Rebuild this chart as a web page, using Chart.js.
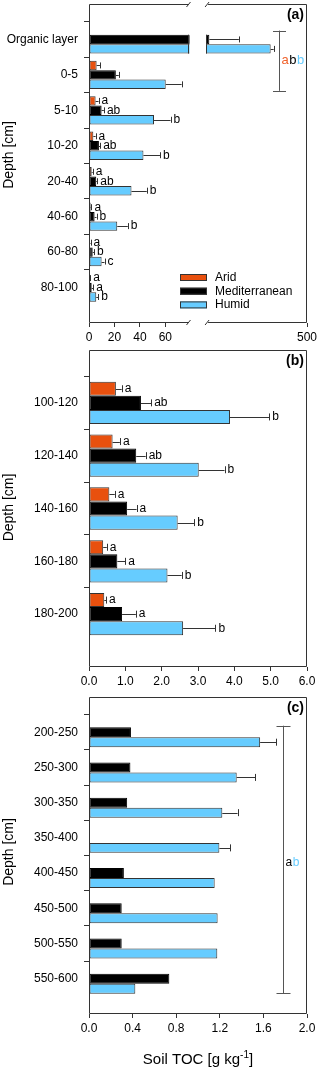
<!DOCTYPE html>
<html>
<head>
<meta charset="utf-8">
<script src="https://cdn.jsdelivr.net/npm/chart.js@4.4.1/dist/chart.umd.min.js"></script>
<style>
    html, body { margin: 0; padding: 0; background: #fff; }
    .panel { position: absolute; left: 0; width: 320px; }
</style>
</head>
<body>
<div class="panel" style="top:0;height:345px"><canvas id="chartA" width="320" height="345"></canvas></div>
<div class="panel" style="top:345px;height:347px"><canvas id="chartB" width="320" height="347"></canvas></div>
<div class="panel" style="top:692px;height:378px"><canvas id="chartC" width="320" height="378"></canvas></div>
<script>
// ---- data ----
const CLIMATES = ["Arid", "Mediterranean", "Humid"];
const COLORS = ["#E8500E", "#000000", "#66CCFF"];

// panel (a)
const A_CATS = ["Organic layer", "0-5", "5-10", "10-20", "20-40", "40-60", "60-80", "80-100"];
const A_ARID = [null, 6.0, 5.2, 3.4, 2.1, 1.3, 0.8, 0.6];
const A_ARID_ERR = [null, 2.6, 2.3, 1.8, 0.8, 0.6, 0.4, 0.4];
const A_MED = [113, 21.1, 9.9, 7.8, 5.7, 4.4, 2.9, 2.1];
const A_MED_ERR = [117, 2.3, 1.8, 1.0, 0.8, 1.5, 1.0, 1.2];
const A_HUM = [356, 60.3, 51.1, 42.8, 33.4, 22.2, 9.9, 5.7];
const A_HUM_ERR = [12, 12.5, 13, 13, 12, 8.3, 2.3, 1.6];
const A_ARID_SIG = ["", "", "a", "a", "a", "a", "a", "a"];
const A_MED_SIG = ["", "", "ab", "ab", "ab", "b", "b", "a"];
const A_HUM_SIG = ["", "", "b", "b", "b", "b", "c", "b"];
const A_TICKS = [0, 20, 40, 60, 500];

// panel (b)
const B_CATS = ["100-120", "120-140", "140-160", "160-180", "180-200"];
const B_ARID = [0.74, 0.65, 0.56, 0.39, 0.42];
const B_ARID_ERR = [0.16, 0.20, 0.15, 0.10, 0.05];
const B_MED = [1.43, 1.30, 1.05, 0.78, 0.91];
const B_MED_ERR = [0.28, 0.26, 0.26, 0.22, 0.38];
const B_HUM = [3.88, 3.02, 2.44, 2.16, 2.59];
const B_HUM_ERR = [1.08, 0.71, 0.46, 0.39, 0.89];
const B_ARID_SIG = ["a", "a", "a", "a", "a"];
const B_MED_SIG = ["ab", "ab", "a", "a", "a"];
const B_HUM_SIG = ["b", "b", "b", "b", "b"];
const B_TICKS = [0, 1, 2, 3, 4, 5, 6];

// panel (c)
const C_CATS = ["200-250", "250-300", "300-350", "350-400", "400-450", "450-500", "500-550", "550-600"];
const C_ARID = [null, null, null, null, null, null, null, null];
const C_MED = [0.385, 0.38, 0.35, null, 0.32, 0.30, 0.30, 0.737];
const C_HUM = [1.57, 1.355, 1.223, 1.196, 1.153, 1.18, 1.177, 0.425];
const C_HUM_ERR = [0.15, 0.17, 0.14, 0.10, null, null, null, null];
const C_TICKS = [0, 0.4, 0.8, 1.2, 1.6, 2.0];

// broken x axis of panel (a): 0..79 on the left, 100..500 on the right
const BREAK_LO = 79, BREAK_HI = 100;
const SEG_L = 0.461, SEG_R = 0.537;

Chart.defaults.font.family = "'Liberation Sans', Arial, sans-serif";
Chart.defaults.font.size = 12;
Chart.defaults.color = "#000";

class BrokenScale extends Chart.LinearScale {
    static id = "broken";
    static defaults = Chart.LinearScale.defaults;
    getPixelForValue(value) {
        const f = value <= BREAK_LO
            ? SEG_L * (value - this.min) / (BREAK_LO - this.min)
            : SEG_R + (1 - SEG_R) * (value - BREAK_HI) / (this.max - BREAK_HI);
        return this.left + this.width * f;
    }
    getValueForPixel(pixel) {
        const f = (pixel - this.left) / this.width;
        if (f <= SEG_L) return this.min + f / SEG_L * (BREAK_LO - this.min);
        return BREAK_HI + (f - SEG_R) / (1 - SEG_R) * (this.max - BREAK_HI);
    }
}
Chart.register(BrokenScale);

const pad = arr => arr ? [null, ...arr, null] : undefined;

// frame, break, error bars, letters, bracket, titles, legend
const decor = {
    id: "decor",
    afterDatasetsDraw(chart, args, o) {
        const ctx = chart.ctx, a = chart.chartArea;
        const xs = chart.scales.x, ys = chart.scales.y;
        const gL = a.left + SEG_L * a.width, gR = a.left + SEG_R * a.width;
        ctx.save();
        ctx.lineWidth = 1;
        ctx.strokeStyle = "#333";

        if (o.broken) {
            ctx.fillStyle = "#fff";
            ctx.fillRect(gL, a.top + 1, gR - gL, a.height - 2);
            chart.data.datasets.forEach((ds, i) => {
                chart.getDatasetMeta(i).data.forEach(el => {
                    if (el.x > gR && el.base < gL) {
                        const t = el.y - el.height / 2, b = el.y + el.height / 2;
                        ctx.beginPath();
                        ctx.moveTo(Math.round(gL) - 0.5, t); ctx.lineTo(Math.round(gL) - 0.5, b);
                        ctx.moveTo(Math.round(gR) + 0.5, t); ctx.lineTo(Math.round(gR) + 0.5, b);
                        ctx.stroke();
                    }
                });
            });
        }

        // error bars + significance letters
        ctx.font = "12px 'Liberation Sans', Arial, sans-serif";
        ctx.textBaseline = "middle";
        ctx.textAlign = "left";
        ctx.fillStyle = "#000";
        chart.data.datasets.forEach((ds, i) => {
            chart.getDatasetMeta(i).data.forEach((el, j) => {
                const v = ds.data[j];
                if (v == null) return;
                let xEnd = el.x;
                const e = ds.err ? ds.err[j] : null;
                if (e) {
                    xEnd = xs.getPixelForValue(v + e);
                    const y = Math.round(el.y) + 0.5;
                    ctx.beginPath();
                    ctx.moveTo(el.x, y); ctx.lineTo(xEnd, y);
                    ctx.moveTo(Math.round(xEnd) + 0.5, el.y - o.cap);
                    ctx.lineTo(Math.round(xEnd) + 0.5, el.y + o.cap);
                    ctx.stroke();
                }
                const s = ds.sig ? ds.sig[j] : "";
                if (s) ctx.fillText(s, xEnd + 3, el.y);
            });
        });

        // frame
        const L = Math.round(a.left) + 0.5, R = Math.round(a.right) - 0.5;
        const T = Math.round(a.top) + 0.5, B = Math.round(a.bottom) - 0.5;
        ctx.beginPath();
        ctx.moveTo(L, T); ctx.lineTo(L, B);
        ctx.moveTo(R, T); ctx.lineTo(R, B);
        if (o.broken) {
            [T, B].forEach(y => {
                ctx.moveTo(L, y); ctx.lineTo(gL - 1, y);
                ctx.moveTo(gR + 2, y); ctx.lineTo(R, y);
                ctx.moveTo(gL - 3, y + 2.5); ctx.lineTo(gL + 1, y - 2.5);
                ctx.moveTo(gR - 1, y + 2.5); ctx.lineTo(gR + 3, y - 2.5);
            });
        } else {
            ctx.moveTo(L, T); ctx.lineTo(R, T);
            ctx.moveTo(L, B); ctx.lineTo(R, B);
        }
        ctx.stroke();

        // bracket with letters
        if (o.bracket) {
            const br = o.bracket;
            const x = Math.round(xs.getPixelForValue(br.x)) + 0.5;
            const top = ys.getPixelForValue(br.from + 1) + br.dTop * ys._length / (ys.ticks.length - 1);
            const bot = ys.getPixelForValue(br.to + 1) + br.dBot * ys._length / (ys.ticks.length - 1);
            ctx.strokeStyle = "#555";
            ctx.beginPath();
            ctx.moveTo(x, top); ctx.lineTo(x, bot);
            ctx.moveTo(x - br.cap, Math.round(top) + 0.5); ctx.lineTo(x + br.cap, Math.round(top) + 0.5);
            ctx.moveTo(x - br.cap, Math.round(bot) + 0.5); ctx.lineTo(x + br.cap, Math.round(bot) + 0.5);
            ctx.stroke();
            ctx.font = br.font + "px 'Liberation Sans', Arial, sans-serif";
            let tx = x + 2;
            br.letters.forEach((l, k) => {
                ctx.fillStyle = br.colors[k];
                ctx.fillText(l, tx, (top + bot) / 2 + br.dy);
                tx += ctx.measureText(l).width + 0.5;
            });
        }

        // panel label
        ctx.fillStyle = "#000";
        ctx.font = "bold 14px 'Liberation Sans', Arial, sans-serif";
        ctx.textAlign = "right";
        ctx.fillText(o.label, a.right - 3, a.top + 11.5);

        // y title
        ctx.font = "14px 'Liberation Sans', Arial, sans-serif";
        ctx.textAlign = "center";
        ctx.save();
        ctx.translate(9.5, o.yTitleY);
        ctx.rotate(-Math.PI / 2);
        ctx.fillText("Depth [cm]", 0, 0);
        ctx.restore();

        // x title with superscript
        if (o.xTitle) {
            ctx.textBaseline = "alphabetic";
            ctx.textAlign = "left";
            const f1 = "15px 'Liberation Sans', Arial, sans-serif";
            const f2 = "10px 'Liberation Sans', Arial, sans-serif";
            const p1 = "Soil TOC [g kg", p2 = "-1", p3 = "]";
            ctx.font = f1; const w1 = ctx.measureText(p1).width, w3 = ctx.measureText(p3).width;
            ctx.font = f2; const w2 = ctx.measureText(p2).width;
            let x0 = (a.left + a.right) / 2 - (w1 + w2 + w3) / 2;
            const y0 = o.xTitle.y;
            ctx.font = f1; ctx.fillText(p1, x0, y0);
            ctx.font = f2; ctx.fillText(p2, x0 + w1, y0 - 6);
            ctx.font = f1; ctx.fillText(p3, x0 + w1 + w2, y0);
        }

        // legend inside plot
        if (o.legend) {
            ctx.font = "12px 'Liberation Sans', Arial, sans-serif";
            ctx.textBaseline = "middle";
            ctx.textAlign = "left";
            chart.data.datasets.forEach((ds, i) => {
                const y = a.bottom - o.legend.bottom + i * o.legend.step;
                ctx.fillStyle = ds.backgroundColor;
                ctx.fillRect(o.legend.x, y - 3.5, 27, 7);
                ctx.strokeStyle = "#333";
                ctx.strokeRect(o.legend.x + 0.5, y - 3, 26, 6);
                ctx.fillStyle = "#000";
                ctx.fillText(ds.label, o.legend.x + 35, y);
            });
        }
        ctx.restore();
    }
};

function makeDatasets(vals, errs, sigs) {
    return CLIMATES.map((name, i) => ({
        label: name,
        data: pad(vals[i]),
        err: pad(errs[i]),
        sig: pad(sigs[i]),
        backgroundColor: COLORS[i],
        borderColor: i === 1 ? "#000" : "#333",
        borderWidth: 1,
        borderSkipped: false
    }));
}

function renderPanel(id, cats, datasets, x, panel) {
    const canvas = document.getElementById(id);
    return new Chart(canvas, {
        type: "bar",
        data: { labels: ["", ...cats, ""], datasets: datasets },
        options: {
            responsive: false,
            animation: false,
            indexAxis: "y",
            categoryPercentage: panel.catPct,
            barPercentage: 1.0,
            layout: { padding: { left: 0, right: 13, top: panel.top, bottom: 0 } },
            scales: {
                y: {
                    type: "category",
                    offset: false,
                    border: { display: false },
                    grid: {
                        drawOnChartArea: false,
                        tickLength: 5,
                        color: "#333",
                        tickColor: c => (c.tick && c.tick.label) ? "#333" : "rgba(0,0,0,0)"
                    },
                    ticks: { autoSkip: false, padding: 6, color: "#000", font: { size: 12 } },
                    afterFit: s => { s.width = 89; s.paddingTop = 0; s.paddingBottom = 0; }
                },
                x: {
                    type: x.type,
                    min: x.min,
                    max: x.max,
                    border: { display: false },
                    grid: { drawOnChartArea: false, tickLength: 4, color: "#333" },
                    ticks: { autoSkip: false, maxRotation: 0, padding: 3, color: "#000", font: { size: 12 }, callback: x.fmt },
                    afterBuildTicks: s => { s.ticks = x.ticks.map(v => ({ value: v })); },
                    afterFit: s => { s.height = x.height; s.paddingLeft = 0; s.paddingRight = 0; }
                }
            },
            plugins: {
                legend: { display: false },
                tooltip: { enabled: false },
                decor: panel.decor
            }
        },
        plugins: [decor]
    });
}

renderPanel("chartA", A_CATS,
    makeDatasets([A_ARID, A_MED, A_HUM], [A_ARID_ERR, A_MED_ERR, A_HUM_ERR], [A_ARID_SIG, A_MED_SIG, A_HUM_SIG]),
    { type: "broken", min: 0, max: 500, ticks: A_TICKS, height: 22, fmt: v => String(v) },
    {
        top: 4, catPct: 0.8,
        decor: {
            label: "(a)", broken: true, cap: 3, yTitleY: 155,
            bracket: { x: 391, from: 0, to: 1, dTop: -0.25, dBot: 0.45, cap: 6.5, font: 13, dy: 0,
                       letters: ["a", "b", "b"], colors: ["#F0612A", "#000", "#66CCFF"] },
            legend: { x: 180, bottom: 45.5, step: 13.7 }
        }
    });

renderPanel("chartB", B_CATS,
    makeDatasets([B_ARID, B_MED, B_HUM], [B_ARID_ERR, B_MED_ERR, B_HUM_ERR], [B_ARID_SIG, B_MED_SIG, B_HUM_SIG]),
    { type: "linear", min: 0, max: 6, ticks: B_TICKS, height: 25, fmt: v => Number(v).toFixed(1) },
    { top: 5, catPct: 0.8, decor: { label: "(b)", cap: 3.5, yTitleY: 162.5 } });

renderPanel("chartC", C_CATS,
    makeDatasets([C_ARID, C_MED, C_HUM], [null, null, C_HUM_ERR], [null, null, null]),
    { type: "linear", min: 0, max: 2, ticks: C_TICKS, height: 56, fmt: v => Number(v).toFixed(1) },
    {
        top: 5, catPct: 0.85,
        decor: {
            label: "(c)", cap: 3.5, yTitleY: 160,
            bracket: { x: 1.78, from: 0, to: 7, dTop: -0.185, dBot: 0.41, cap: 7, font: 12, dy: 3,
                       letters: ["a", "b"], colors: ["#000", "#66CCFF"] },
            xTitle: { y: 372 }
        }
    });
</script>
</body>
</html>
